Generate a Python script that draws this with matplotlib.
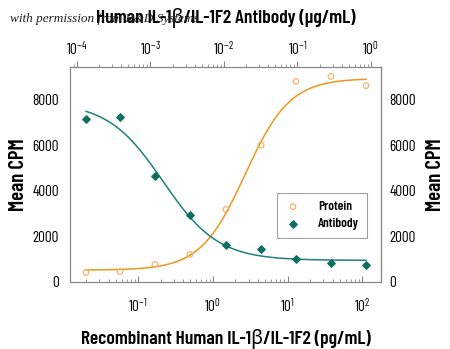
import numpy as np
import matplotlib.pyplot as plt

plt.rcParams['font.family'] = ['Barlow Condensed', 'DejaVu Sans']
plt.rcParams['mathtext.fontset'] = 'custom'
plt.rcParams['mathtext.rm'] = 'Barlow Condensed'
plt.rcParams['mathtext.it'] = 'Barlow Condensed:italic'
plt.rcParams['mathtext.bf'] = 'Barlow Condensed:bold'

# recombinant protein dose (pg/mL) and response
protein_conc = [0.02, 0.057, 0.167, 0.49, 1.49, 4.4, 12.9, 38, 112]
protein_cpm = [420, 460, 770, 1210, 3190, 6020, 8820, 9040, 8630]
# neutralizing antibody dose (ug/mL) and response
antibody_conc = [1.33e-4, 3.85e-4, 1.15e-3, 3.45e-3, 0.0107, 0.032, 0.095, 0.286, 0.855]
antibody_cpm = [7180, 7250, 4650, 2940, 1610, 1470, 990, 845, 740]

# 4PL fit parameters: bottom, top, mid, hill (negative hill = falling curve)
protein_fit = (520, 8950, 2.7, 1.45)
antibody_fit = (950, 7900, 1.48e-3, -1.16)

orange = '#F0961E'
teal = '#1F8080'
dark_teal = '#0F6E60'
grey = '#888888'
lab_font = ['Barlow Condensed', 'Noto Sans', 'DejaVu Sans']


def four_pl(x, p):
    bottom, top, mid, hill = p
    return bottom + (top - bottom) / (1 + (mid / x) ** hill)


fig = plt.figure(figsize=(4.5, 3.49), dpi=100)

fig.text(0.022, 0.938, 'with permission from R&D Systems', fontsize=9.5,
         family=['Liberation Serif', 'DejaVu Serif'], style='italic', color='#222222')

ax = fig.add_axes([0.1556, 0.192, 0.691, 0.616])
ax.set_xscale('log')
ax.set_xlim(10 ** -1.914, 10 ** 2.249)
ax.set_ylim(0, 9450)

xs = np.logspace(np.log10(protein_conc[0]), np.log10(protein_conc[-1]), 200)
ax.plot(xs, four_pl(xs, protein_fit), color=orange, lw=1.1)
ax.scatter(protein_conc, protein_cpm, s=16, facecolors='none',
           edgecolors='#F2B46A', linewidths=0.9, label='Protein', zorder=3)

ax2 = ax.twiny()
ax2.set_xscale('log')
ax2.set_xlim(10 ** -4.095, 10 ** 0.136)
xa = np.logspace(np.log10(antibody_conc[0]), np.log10(antibody_conc[-1]), 200)
ax2.plot(xa, four_pl(xa, antibody_fit), color=teal, lw=1.1)
ax2.scatter(antibody_conc, antibody_cpm, s=14, marker='D', color=dark_teal,
            label='Antibody', zorder=3)

for a in (ax, ax2):
    for s in a.spines.values():
        s.set_color(grey)
        s.set_linewidth(0.8)

ax.set_yticks([0, 2000, 4000, 6000, 8000])
ax.tick_params(axis='y', length=0, labelsize=11, pad=8)
ax.tick_params(axis='x', which='both', direction='in', colors=grey,
               labelcolor='black', labelsize=11, pad=11)
ax.tick_params(axis='x', which='major', length=4)
ax.tick_params(axis='x', which='minor', length=2)
ax2.tick_params(axis='x', which='both', direction='out', colors=grey,
                labelcolor='black', labelsize=11, pad=2.5)
ax2.tick_params(axis='x', which='major', length=4)
ax2.tick_params(axis='x', which='minor', length=2)

ry = ax.secondary_yaxis('right')
ry.set_yticks([0, 2000, 4000, 6000, 8000])
ry.tick_params(length=0, labelsize=11, pad=6)
ry.spines['right'].set_color(grey)
ry.spines['right'].set_linewidth(0.8)

ax.set_ylabel('Mean CPM', fontsize=15, fontweight='semibold', labelpad=3,
              family=lab_font)
ry.set_ylabel('Mean CPM', fontsize=15, fontweight='semibold', labelpad=7,
              family=lab_font)
ax.set_xlabel('Recombinant Human IL-1β/IL-1F2 (pg/mL)', fontsize=14,
              fontweight='semibold', labelpad=10, family=lab_font)
ax2.set_xlabel('Human IL-1β/IL-1F2 Antibody (µg/mL)', fontsize=14,
               fontweight='semibold', labelpad=12, family=lab_font)

h1, l1 = ax.get_legend_handles_labels()
h2, l2 = ax2.get_legend_handles_labels()
leg = ax2.legend(h1 + h2, l1 + l2, loc='lower right',
                 bbox_to_anchor=(0.955, 0.205), fontsize=9.5, frameon=True,
                 fancybox=False, edgecolor=grey, handlelength=1.2,
                 handletextpad=1.3, borderpad=0.6, labelspacing=0.35,
                 borderaxespad=0)
leg.get_frame().set_linewidth(0.8)
for t in leg.get_texts():
    t.set_fontweight('semibold')

fig.savefig('out.png', dpi=100)
